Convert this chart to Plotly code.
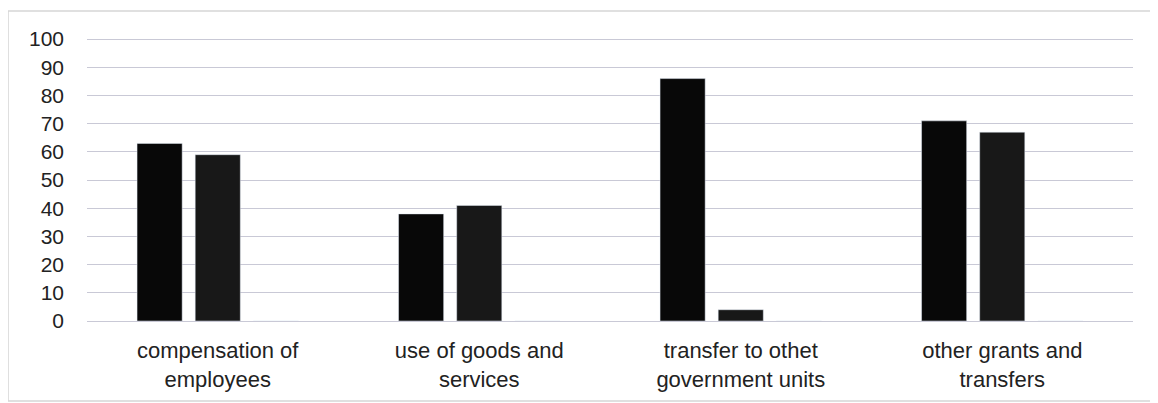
import plotly.graph_objects as go

categories = ["compensation of<br>employees", "use of goods and<br>services",
              "transfer to othet<br>government units", "other grants and<br>transfers"]
series_a = [63, 38, 86, 71]
series_b = [59, 41, 4, 67]
series_c = [0, 0, 0, 0]
y_ticks = [0, 10, 20, 30, 40, 50, 60, 70, 80, 90, 100]

fig = go.Figure()
fig.add_trace(go.Bar(x=categories, y=series_a, name="A", marker=dict(color="#080808")))
fig.add_trace(go.Bar(x=categories, y=series_b, name="B", marker=dict(color="#181818")))
fig.add_trace(go.Bar(x=categories, y=series_c, name="C", marker=dict(color="#303030")))

fig.update_layout(
    width=1150, height=395,
    margin=dict(l=79, r=25, t=30, b=82),
    paper_bgcolor="white", plot_bgcolor="white",
    showlegend=False,
    barmode="group", bargap=0.333, bargroupgap=0.224,
    font=dict(family="Liberation Sans, Arial, sans-serif", color="#222222"),
    xaxis=dict(showgrid=False, showline=False, ticks="", tickfont=dict(size=22),
               ticklabelstandoff=14),
    yaxis=dict(range=[0, 100.4], tickvals=y_ticks, showgrid=True, gridcolor="#c9c9d6",
               gridwidth=1, zeroline=True, zerolinecolor="#c9c9d6", zerolinewidth=1,
               showline=False, ticks="", tickfont=dict(size=21), ticklabelstandoff=22),
    shapes=[dict(type="rect", xref="paper", yref="paper",
                 x0=-0.0755, x1=1.018, y0=-0.283, y1=1.095,
                 line=dict(color="#d6d6d6", width=1.5), fillcolor="rgba(0,0,0,0)",
                 layer="below")],
)

fig.write_html("out.html")
